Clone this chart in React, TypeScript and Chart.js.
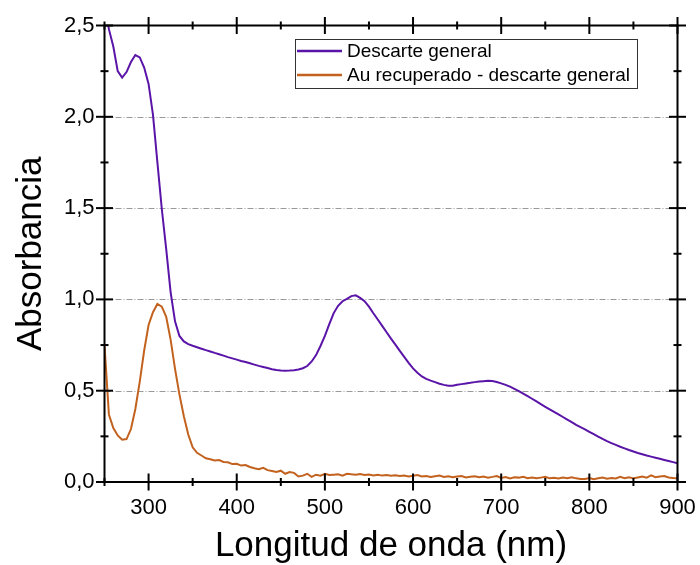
import { useEffect, useRef } from "react";
import { Chart, registerables } from "chart.js";

Chart.register(...registerables);

// Wavelength sampling (nm)
const wavelengths = [
  250, 255, 260, 265, 270, 275, 280, 285, 290, 295,
  300, 305, 310, 315, 320, 325, 330, 335, 340, 345,
  350, 355, 360, 365, 370, 375, 380, 385, 390, 395,
  400, 405, 410, 415, 420, 425, 430, 435, 440, 445,
  450, 455, 460, 465, 470, 475, 480, 485, 490, 495,
  500, 505, 510, 515, 520, 525, 530, 535, 540, 545,
  550, 555, 560, 565, 570, 575, 580, 585, 590, 595,
  600, 605, 610, 615, 620, 625, 630, 635, 640, 645,
  650, 655, 660, 665, 670, 675, 680, 685, 690, 695,
  700, 705, 710, 715, 720, 725, 730, 735, 740, 745,
  750, 755, 760, 765, 770, 775, 780, 785, 790, 795,
  800, 805, 810, 815, 820, 825, 830, 835, 840, 845,
  850, 855, 860, 865, 870, 875, 880, 885, 890, 895,
  900,
];

// Absorbance – Descarte general
const descarteGeneral = [
  2.62, 2.48, 2.385, 2.25, 2.215, 2.245, 2.30, 2.338, 2.325, 2.27,
  2.18, 2.01, 1.75, 1.495, 1.275, 1.04, 0.88, 0.80, 0.77, 0.755,
  0.746, 0.738, 0.73, 0.722, 0.715, 0.707, 0.70, 0.692, 0.684, 0.677,
  0.67, 0.663, 0.657, 0.65, 0.643, 0.636, 0.63, 0.624, 0.618, 0.613,
  0.61, 0.609, 0.61, 0.612, 0.616, 0.623, 0.635, 0.66, 0.695, 0.745,
  0.80, 0.865, 0.925, 0.965, 0.99, 1.003, 1.018, 1.022, 1.008, 0.99,
  0.96, 0.924, 0.89, 0.855, 0.82, 0.785, 0.752, 0.718, 0.685, 0.652,
  0.622, 0.598, 0.578, 0.565, 0.555, 0.547, 0.538, 0.532, 0.527, 0.527,
  0.532, 0.536, 0.54, 0.543, 0.547, 0.55, 0.552, 0.554, 0.553, 0.548,
  0.54, 0.532, 0.522, 0.51, 0.498, 0.484, 0.47, 0.456, 0.441, 0.426,
  0.412, 0.398, 0.384, 0.37, 0.356, 0.342, 0.328, 0.313, 0.30, 0.288,
  0.275, 0.262, 0.249, 0.236, 0.224, 0.213, 0.203, 0.193, 0.184, 0.175,
  0.167, 0.159, 0.152, 0.145, 0.139, 0.133, 0.127, 0.121, 0.115, 0.109,
  0.103,
];

// Absorbance – Au recuperado - descarte general
const auRecuperado = [
  0.75, 0.37, 0.295, 0.255, 0.232, 0.235, 0.29, 0.40, 0.55, 0.72,
  0.86, 0.93, 0.975, 0.96, 0.905, 0.78, 0.62, 0.48, 0.36, 0.26,
  0.19, 0.16, 0.145, 0.13, 0.125, 0.118, 0.12, 0.11, 0.108, 0.098,
  0.10, 0.09, 0.093, 0.082, 0.075, 0.07, 0.078, 0.065, 0.06, 0.055,
  0.062, 0.045, 0.055, 0.05, 0.03, 0.035, 0.045, 0.028, 0.04, 0.035,
  0.045, 0.038, 0.04, 0.042, 0.035, 0.045, 0.042, 0.04, 0.044, 0.038,
  0.041, 0.036, 0.04, 0.035, 0.038, 0.034, 0.037, 0.033, 0.036, 0.03,
  0.034, 0.038, 0.03, 0.033, 0.028, 0.032, 0.035, 0.027, 0.031, 0.026,
  0.03, 0.033, 0.025, 0.029, 0.032, 0.026, 0.03, 0.024, 0.028, 0.033,
  0.022, 0.027, 0.02, 0.026, 0.024, 0.029, 0.021, 0.025, 0.02, 0.024,
  0.028, 0.02, 0.023, 0.019, 0.024, 0.021, 0.026, 0.02, 0.017, 0.016,
  0.022, 0.015, 0.02, 0.024, 0.018, 0.022, 0.019, 0.028, 0.021, 0.026,
  0.02, 0.025, 0.03, 0.024, 0.036, 0.026, 0.03, 0.033, 0.025, 0.022,
  0.02,
];

const seriesLabels = ["Descarte general", "Au recuperado - descarte general"];
const seriesColors = ["#5a14a8", "#c2621e"];

const xMajorTicks = [300, 400, 500, 600, 700, 800, 900];
const xMinorTicks = [250, 350, 450, 550, 650, 750, 850];
const yMajorTicks = [0, 0.5, 1.0, 1.5, 2.0, 2.5];
const yMinorTicks = [0.25, 0.75, 1.25, 1.75, 2.25];
const yGridLines = [0.5, 1.0, 1.5, 2.0];

const FONT = '"Liberation Sans", Arial, sans-serif';

// Dash-dot horizontal grid, boxed frame with ticks crossing every side, and the legend box
const framePlugin = {
  id: "originFrame",
  beforeDatasetsDraw(chart: any) {
    const { ctx, chartArea } = chart;
    const y = chart.scales.y;
    ctx.save();
    ctx.strokeStyle = "#9a9a9a";
    ctx.lineWidth = 1;
    ctx.setLineDash([6, 2, 1, 2]);
    for (const v of yGridLines) {
      const py = Math.round(y.getPixelForValue(v)) + 0.5;
      ctx.beginPath();
      ctx.moveTo(chartArea.left, py);
      ctx.lineTo(chartArea.right, py);
      ctx.stroke();
    }
    ctx.restore();
  },
  afterDatasetsDraw(chart: any) {
    const { ctx, chartArea } = chart;
    const { left, right, top, bottom } = chartArea;
    const xs = chart.scales.x;
    const ys = chart.scales.y;
    ctx.save();
    ctx.strokeStyle = "#000";
    ctx.lineWidth = 2;
    ctx.setLineDash([]);
    ctx.strokeRect(left, top, right - left, bottom - top);

    const major = 8.5;
    const minor = 4;
    const vTick = (px: number, py: number, len: number) => {
      ctx.beginPath();
      ctx.moveTo(px, py - len);
      ctx.lineTo(px, py + len);
      ctx.stroke();
    };
    const hTick = (px: number, py: number, len: number) => {
      ctx.beginPath();
      ctx.moveTo(px - len, py);
      ctx.lineTo(px + len, py);
      ctx.stroke();
    };
    for (const v of xMajorTicks) {
      const px = xs.getPixelForValue(v);
      vTick(px, bottom, major);
      vTick(px, top, major);
    }
    for (const v of xMinorTicks) {
      const px = xs.getPixelForValue(v);
      vTick(px, bottom, minor);
      vTick(px, top, minor);
    }
    for (const v of yMajorTicks) {
      const py = ys.getPixelForValue(v);
      hTick(left, py, major);
      hTick(right, py, major);
    }
    for (const v of yMinorTicks) {
      const py = ys.getPixelForValue(v);
      hTick(left, py, minor);
      hTick(right, py, minor);
    }

    // Legend
    const bx = 295;
    const by = 39;
    const bw = 342;
    const bh = 49;
    ctx.fillStyle = "#fff";
    ctx.fillRect(bx, by, bw, bh);
    ctx.lineWidth = 1;
    ctx.strokeStyle = "#333";
    ctx.strokeRect(bx + 0.5, by + 0.5, bw, bh);
    ctx.font = `19px ${FONT}`;
    ctx.textBaseline = "middle";
    ctx.textAlign = "left";
    chart.data.datasets.forEach((ds: any, i: number) => {
      const ry = by + 12 + i * 24;
      ctx.strokeStyle = ds.borderColor;
      ctx.lineWidth = 2.5;
      ctx.beginPath();
      ctx.moveTo(bx + 2, ry);
      ctx.lineTo(bx + 47, ry);
      ctx.stroke();
      ctx.fillStyle = "#000";
      ctx.fillText(ds.label, bx + 52, ry + 1);
    });
    ctx.restore();
  },
};

export default function App() {
  const canvasRef = useRef<HTMLCanvasElement | null>(null);

  useEffect(() => {
    const canvas = canvasRef.current;
    if (!canvas) return;
    const seriesValues = [descarteGeneral, auRecuperado];
    const chart = new Chart(canvas, {
      type: "line",
      data: {
        datasets: seriesValues.map((vals, i) => ({
          label: seriesLabels[i],
          data: wavelengths.map((w, j) => ({ x: w, y: vals[j] })),
          borderColor: seriesColors[i],
          backgroundColor: seriesColors[i],
          borderWidth: 2,
          pointRadius: 0,
          tension: 0,
          fill: false,
        })),
      },
      options: {
        responsive: false,
        animation: false,
        devicePixelRatio: 1,
        layout: { padding: { top: 25.5, right: 22.5, left: 0, bottom: 0 } },
        plugins: {
          legend: { display: false },
          tooltip: { enabled: false },
        },
        scales: {
          x: {
            type: "linear",
            min: 250,
            max: 900,
            grid: { display: false, drawTicks: false },
            border: { display: false },
            afterBuildTicks: (scale: any) => {
              scale.ticks = xMajorTicks.map((v) => ({ value: v }));
            },
            afterFit: (scale: any) => {
              scale.height = 83;
              scale.paddingLeft = 0;
              scale.paddingRight = 0;
            },
            ticks: {
              padding: 13,
              color: "#000",
              font: { family: FONT, size: 22 },
              maxRotation: 0,
              autoSkip: false,
              callback: (v: any) => String(v),
            },
            title: {
              display: true,
              text: "Longitud de onda (nm)",
              color: "#000",
              font: { family: FONT, size: 35 },
              padding: { top: 0, bottom: -2 },
            },
          },
          y: {
            type: "linear",
            min: 0,
            max: 2.5,
            grid: { display: false, drawTicks: false },
            border: { display: false },
            afterBuildTicks: (scale: any) => {
              scale.ticks = yMajorTicks.map((v) => ({ value: v }));
            },
            afterFit: (scale: any) => {
              scale.width = 104.5;
              scale.paddingTop = 0;
              scale.paddingBottom = 0;
            },
            ticks: {
              padding: 10,
              color: "#000",
              font: { family: FONT, size: 22 },
              autoSkip: false,
              callback: (v: any) => Number(v).toFixed(1).replace(".", ","),
            },
            title: {
              display: true,
              text: "Absorbancia",
              color: "#000",
              font: { family: FONT, size: 35 },
              padding: { top: 10, bottom: 0 },
            },
          },
        },
      },
      plugins: [framePlugin],
    });
    return () => chart.destroy();
  }, []);

  return (
    <div style={{ position: "absolute", left: 0, top: 0, width: 700, height: 565, background: "#fff" }}>
      <canvas ref={canvasRef} width={700} height={565} style={{ display: "block" }} />
    </div>
  );
}
